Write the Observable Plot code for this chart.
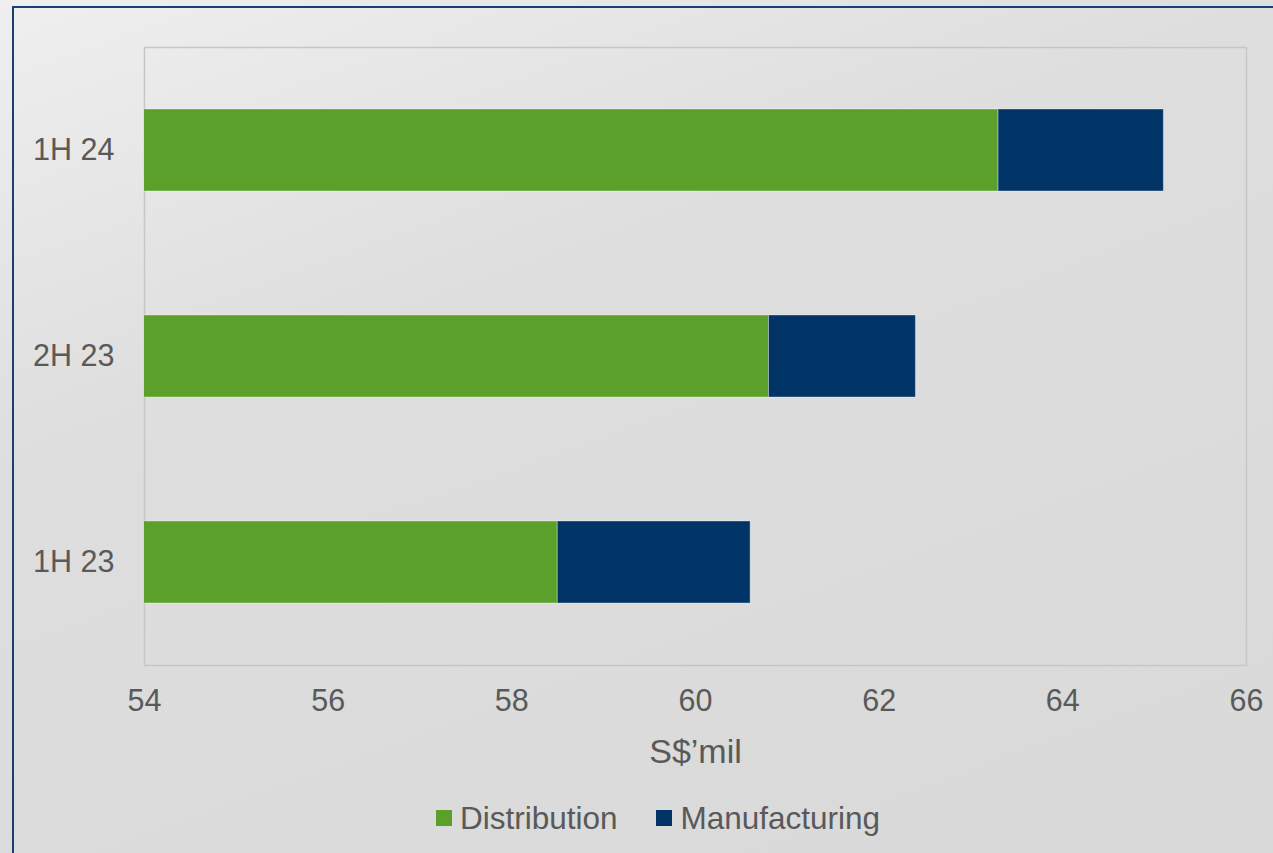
<!DOCTYPE html>
<html><head><meta charset="utf-8">
<script src="https://cdn.jsdelivr.net/npm/d3@7"></script>
<script src="https://cdn.jsdelivr.net/npm/@observablehq/plot@0.6"></script>
<style>
html,body{margin:0;padding:0;width:1273px;height:853px;overflow:hidden;}
body{background:linear-gradient(160deg,#efefef 0%,#dedede 35%,#d9d9d9 100%);font-family:"Liberation Sans",Arial,sans-serif;position:relative;}
#frame{position:absolute;left:12px;top:6px;width:1300px;height:900px;border:2px solid #1b3f70;box-sizing:border-box;pointer-events:none;}
#chart{position:absolute;left:0;top:0;}
#legend{position:absolute;left:0;top:790px;width:1316px;height:56px;display:flex;justify-content:center;align-items:center;gap:39px;font-size:31.5px;color:#595959;}
.item{display:flex;align-items:center;gap:8px;}
.sw{width:16px;height:16px;}
</style></head>
<body>
<div id="chart"></div><div id="legend"></div><div id="frame"></div>
<script>
const periods = ["1H 24", "2H 23", "1H 23"];
const series = ["Distribution", "Manufacturing"];
const distribution = [63.3, 60.8, 58.5];
const manufacturing = [1.8, 1.6, 2.1];
const xTicks = [54, 56, 58, 60, 62, 64, 66];
const colors = ["#5ba02b", "#003366"];

const rows = [];
periods.forEach((p, i) => rows.push({period: p, series: series[0], value: distribution[i]}));
periods.forEach((p, i) => rows.push({period: p, series: series[1], value: manufacturing[i]}));

const W = 1273, H = 790;
const chart = Plot.plot({
  width: W, height: H,
  marginLeft: 144, marginRight: 27, marginTop: 47, marginBottom: H - 665,
  style: {background: "transparent", fontSize: "30.5px", fontFamily: "'Liberation Sans', Arial, sans-serif", color: "#595959"},
  x: {domain: [54, 66]},
  y: {domain: periods, paddingInner: 0.6, paddingOuter: 0.3, label: null},
  color: {domain: series, range: colors},
  marks: [
    Plot.frame({stroke: "#c6c6c6", strokeWidth: 1.5}),
    Plot.barX(rows, {x: "value", y: "period", fill: "series", stroke: "#ffffff", strokeOpacity: 0.35, strokeWidth: 1, clip: true}),
    Plot.axisY({tickSize: 0, tickPadding: 30, label: null}),
    Plot.axisX({ticks: xTicks, tickSize: 0, tickPadding: 24, tickFormat: d => String(d), label: "S$\u2019mil", labelAnchor: "center", labelArrow: "none", labelOffset: 97})
  ]
});
d3.select(chart).selectAll('g[aria-label="x-axis label"] text').style("font-size", "34px");
document.getElementById("chart").appendChild(chart);

const legend = document.getElementById("legend");
series.forEach((s, i) => {
  const item = document.createElement("div");
  item.className = "item";
  const sw = document.createElement("div");
  sw.className = "sw";
  sw.style.background = colors[i];
  const t = document.createElement("span");
  t.textContent = s;
  item.appendChild(sw); item.appendChild(t);
  legend.appendChild(item);
});
</script>
</body></html>
